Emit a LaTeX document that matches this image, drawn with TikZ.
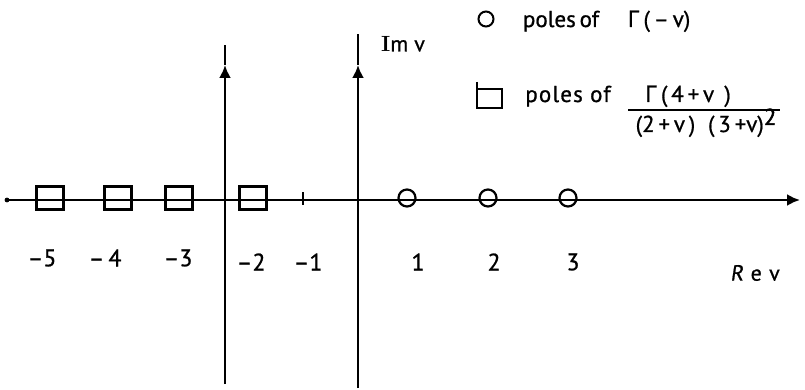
\documentclass[tikz,border=0pt]{standalone}
\usepackage{fontspec}
\setmainfont{PT Sans}[FakeBold=0.8]
\newfontfamily\serfont{Latin Modern Roman}
\newfontfamily\gfont{Open Sans}[FakeBold=0.8]
\usetikzlibrary{arrows.meta}
\begin{document}
\begin{tikzpicture}[x=1pt,y=-1pt,
  ax/.style={line width=2.4pt},
  sq/.style={draw,line width=2.6pt,minimum width=27pt,minimum height=23pt,inner sep=0pt},
  ci/.style={draw,circle,line width=2.2pt,minimum size=17pt,inner sep=0pt},
  num/.style={font=\fontsize{24}{26}\selectfont,inner sep=0pt},
  leg/.style={font=\fontsize{23}{26}\selectfont,inner sep=0pt,anchor=base},
  tip/.style={-{Latex[length=13pt,width=12pt]}}]
\useasboundingbox (0,0) rectangle (805,390);
% real axis
\coordinate (L) at (7,200);
\coordinate (R) at (800,200);
\fill (L) circle (2.4pt);
\draw[ax,tip] (L) -- (R);
% vertical lines
\coordinate (ab) at (225,384);
\coordinate (am) at (225,65);
\coordinate (at) at (225,45);
\draw[ax,tip] (ab) -- (am);
\draw[ax] (am) -- (at);
\coordinate (bb) at (358,388);
\coordinate (bm) at (358,65);
\coordinate (bt) at (358,34);
\draw[ax,tip] (bb) -- (bm);
\draw[ax] (bm) -- (bt);
% tick at -1
\coordinate (t1) at (303,192);
\coordinate (t2) at (303,205);
\draw[line width=2pt] (t1) -- (t2);
% squares
\node[sq] (s5) at (50,198) {};
\node[sq] (s4) at (118,198) {};
\node[sq] (s3) at (179,198) {};
\node[sq] (s2) at (253,198) {};
% circles
\node[ci] (c1) at (407,198) {};
\node[ci] (c2) at (488,198) {};
\node[ci] (c3) at (568,198) {};
% labels
\node[num] (n5) at (42,258) {–5};
\node[num] (n4) at (105,258) {–\,4};
\node[num] (n3) at (178,258) {–3};
\node[num] (n2) at (251,262) {–2};
\node[num] (n1) at (308,262) {–1};
\node[num] (p1) at (418,262) {1};
\node[num] (p2) at (494,262) {2};
\node[num] (p3) at (573,262) {3};
\node[num,font=\fontsize{22}{24}\selectfont] (re) at (755,273) {\addfontfeature{FakeSlant=0.15}R\addfontfeature{FakeSlant=0}\,\,e\,\,v};
\node[font=\fontsize{22}{24}\selectfont,inner sep=0pt] (im) at (403,44) {{\serfont\bfseries I}m\;v};
% legend
\node[ci,minimum size=15pt,line width=2pt] (lc) at (486,19) {};
\node[leg] (lt1) at (561,27) {poles\,of};
\node[leg] (g1) at (659,27) {{\gfont Γ}\,(\,–\,v)};
\coordinate (ls1) at (477,82);
\coordinate (ls2) at (477,108);
\coordinate (ls3) at (502,108);
\coordinate (ls4) at (502,89);
\coordinate (ls5) at (477,89);
\draw[line width=2pt] (ls1) -- (ls2) -- (ls3) -- (ls4) -- (ls5);
\node[leg,font=\fontsize{23}{26}\selectfont\addfontfeature{LetterSpace=5}] (lt2) at (568,102) {poles of};
\node[leg] (num2) at (688,102) {{\gfont Γ}\,(\,4\,+\,v\;\,)};
\coordinate (f1) at (628,110);
\coordinate (f2) at (780,110);
\draw[line width=1.8pt] (f1) -- (f2);
\node[leg] (den) at (706,132) {(2\,+\,v\,)\;\;(\,3\,+v)\raisebox{7pt}{\addfontfeature{FakeBold=2}2}};
\end{tikzpicture}
\end{document}
